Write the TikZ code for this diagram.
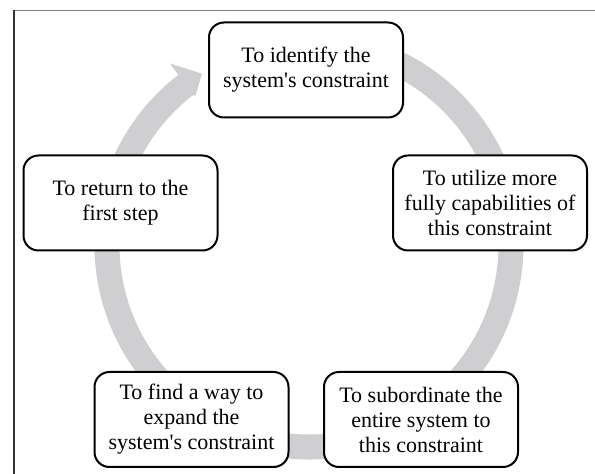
\documentclass[tikz,border=0pt]{standalone}
\usepackage{fontspec}
\setmainfont{Liberation Serif}
\usetikzlibrary{positioning}

\definecolor{ringgray}{RGB}{207,207,209}
\definecolor{framegray}{RGB}{128,128,128}

\begin{document}
\begin{tikzpicture}[x=1pt,y=1pt,
  stepbox/.style={draw=black,line width=2pt,rounded corners=15pt,fill=white,
    minimum width=194pt,minimum height=95pt,inner sep=0pt,align=center,
    font=\fontsize{22}{25}\selectfont}]
\useasboundingbox (0,0) rectangle (595,474);
\draw[framegray,line width=1.2pt] (14,463.5) -- (595,463.5);
\draw[black!80,line width=1.5pt] (14,464) -- (14,0);

\coordinate (C) at (309,229);
\begin{scope}[shift={(C)}]
\fill[ringgray] (80:214.5pt) arc[start angle=80,end angle=-232.5,radius=214.5pt]
  -- (127.5:229pt) -- (122:202pt) -- (127.5:187pt)
  -- (127.5:189.5pt) arc[start angle=-232.5,end angle=80,radius=189.5pt] -- cycle;
\end{scope}

\node[stepbox] (identify) at (306,404) {To identify the\\system\textquotesingle s constraint};
\node[stepbox] (utilize) at (490,271) {To utilize more\\fully capabilities of\\this constraint};
\node[stepbox] (subordinate) at (421,54.5) {To subordinate the\\entire system to\\this constraint};
\node[stepbox] (expand) at (191.5,54.5) {To find a way to\\expand the\\system\textquotesingle s constraint};
\node[stepbox] (return) at (120.5,271) {To return to the\\first step};

\end{tikzpicture}
\end{document}
